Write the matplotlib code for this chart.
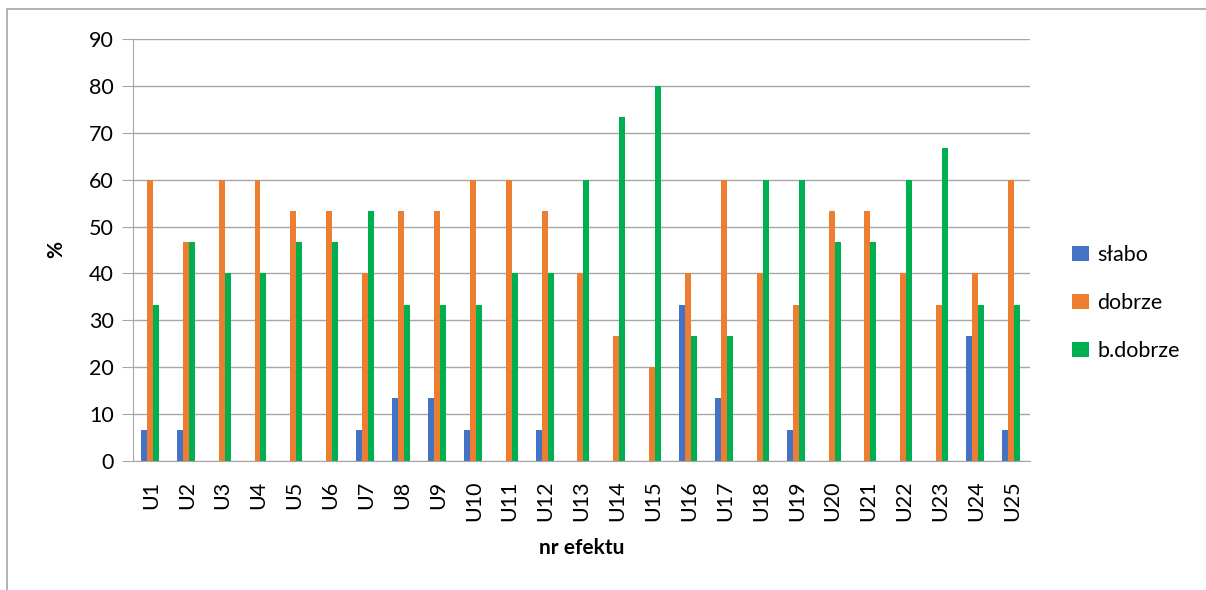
import numpy as np
import matplotlib.pyplot as plt
from matplotlib.patches import Rectangle

plt.rcParams['font.family'] = ['Lato', 'DejaVu Sans']

categories = ['U%d' % i for i in range(1, 26)]
slabo = [6.67, 6.67, 0, 0, 0, 0, 6.67, 13.33, 13.33, 6.67, 0, 6.67, 0,
         0, 0, 33.33, 13.33, 0, 6.67, 0, 0, 0, 0, 26.67, 6.67]
dobrze = [60, 46.67, 60, 60, 53.33, 53.33, 40, 53.33, 53.33, 60, 60, 53.33, 40,
          26.67, 20, 40, 60, 40, 33.33, 53.33, 53.33, 40, 33.33, 40, 60]
b_dobrze = [33.33, 46.67, 40, 40, 46.67, 46.67, 53.33, 33.33, 33.33, 33.33, 40, 40, 60,
            73.33, 80, 26.67, 26.67, 60, 60, 46.67, 46.67, 60, 66.67, 33.33, 33.33]
series = [('słabo', slabo, '#4472C4'),
          ('dobrze', dobrze, '#ED7D31'),
          ('b.dobrze', b_dobrze, '#00B050')]

fig = plt.figure(figsize=(12.06, 5.90), dpi=100)
ax = fig.add_axes([133 / 1206, 1 - 461 / 590, (1030 - 133) / 1206, (461 - 39) / 590])

x = np.arange(len(categories))
w = 0.167
for i, (name, vals, col) in enumerate(series):
    ax.bar(x + (i - 1) * w - 0.03, vals, w, color=col, label=name, zorder=3)

ax.set_xlim(-0.5, len(categories) - 0.5)
ax.set_ylim(0, 90)
ax.set_yticks(range(0, 91, 10))
ax.set_xticks(x)
ax.set_xticklabels(categories, rotation=90, fontsize=15.5)
ax.tick_params(axis='y', labelsize=15.5, length=8, color='#A6A6A6', pad=6)
ax.tick_params(axis='x', length=0, pad=14)
ax.grid(axis='y', color='#A6A6A6', lw=1, zorder=0)
for s in ['top', 'right']:
    ax.spines[s].set_visible(False)
ax.spines['left'].set_color('#A6A6A6')
ax.spines['bottom'].set_color('#A6A6A6')
ax.spines['bottom'].set_zorder(4)

ax.set_xlabel('nr efektu', fontsize=15, fontweight='bold', labelpad=12)
ax.set_ylabel('%', fontsize=15, fontweight='bold', labelpad=16)

fig.legend(loc='center left', bbox_to_anchor=(1053 / 1206, 1 - 303 / 590), frameon=False,
           fontsize=15.5, handlelength=0.75, handleheight=0.75, handletextpad=0.4, labelspacing=1.3)

fig.patches.append(Rectangle((7 / 1206, -0.1), 1.2, 1 - 9 / 590 + 0.1, transform=fig.transFigure,
                             fill=False, edgecolor='#A6A6A6', lw=1.2))

fig.savefig('out.png', dpi=100)
